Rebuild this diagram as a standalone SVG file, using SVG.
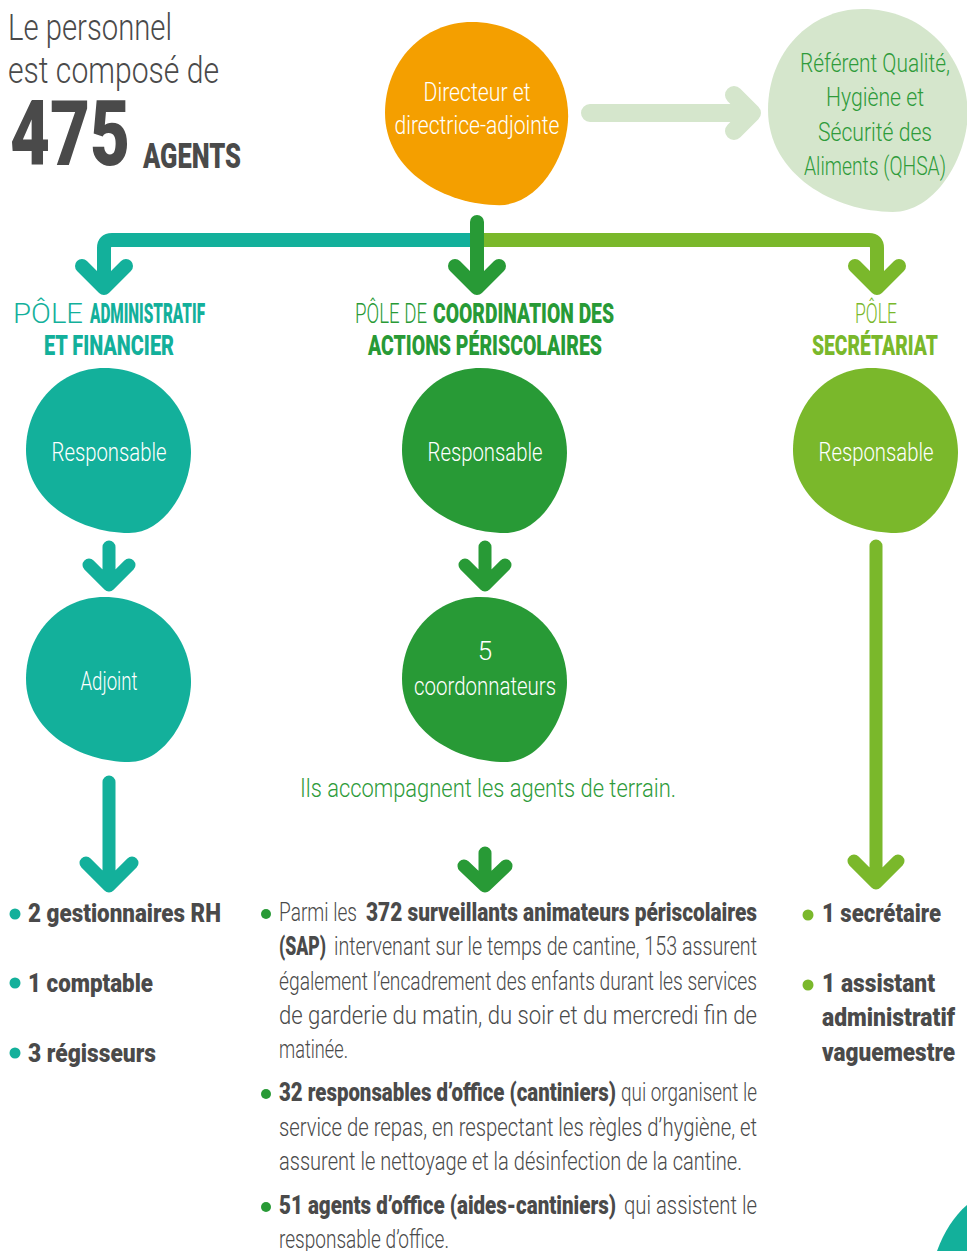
<svg xmlns="http://www.w3.org/2000/svg" xmlns:xlink="http://www.w3.org/1999/xlink" width="967" height="1251" viewBox="0 0 967 1251">
  <style>
    .lt { font-family: Roboto, "Open Sans", "Liberation Sans", sans-serif; font-weight: 300; }
    .bd { font-family: Roboto, "Liberation Sans", sans-serif; font-weight: 900; }
    .gray { fill: #4a4a4a; }
    .white { fill: #ffffff; }
    .teal { fill: #13B09B; }
    .dgreen { fill: #289A36; }
    .lime { fill: #7AB82B; }
    .qtext { fill: #2E9B3A; }
    .arrow { fill: none; stroke-linecap: round; stroke-linejoin: round; }
    .c-teal { stroke: #13B09B; }
    .c-dgreen { stroke: #289A36; }
    .c-lime { stroke: #7AB82B; }
    .c-pale { stroke: #D5E6CC; }
  </style>
  <defs>
    <!-- organic blob in a 165 x 165 box -->
    <path id="blob" d="M78,0 C130,0 165,40 165,85 C165,118 140,165 103,165 C55,165 0,135 0,82 C0,35 35,0 78,0 Z"/>
  </defs>

  <rect width="967" height="1251" fill="#ffffff"/>

  <!-- headline -->
  <g id="headline">
    <text x="8" y="40" class="lt gray" font-size="36" textLength="164" lengthAdjust="spacingAndGlyphs">Le personnel</text>
    <text x="8" y="83" class="lt gray" font-size="36" textLength="211" lengthAdjust="spacingAndGlyphs">est composé de</text>
    <text x="10" y="165" class="bd gray" font-size="90" textLength="120" lengthAdjust="spacingAndGlyphs">475</text>
    <text x="143" y="168" class="bd gray" font-size="35" textLength="98" lengthAdjust="spacingAndGlyphs">AGENTS</text>
  </g>

  <!-- connectors -->
  <g id="connectors">
    <path class="arrow c-pale" stroke-width="18" d="M590,113 H750 M734,95 L752,113 L734,131"/>
    <path class="arrow c-teal" stroke-width="14" d="M477,240 H112 Q104,240 104,248 V284 M82,266 L104,288 L126,266"/>
    <path class="arrow c-lime" stroke-width="14" d="M477,240 H869 Q877,240 877,248 V284 M855,266 L877,288 L899,266"/>
    <path class="arrow c-dgreen" stroke-width="14" d="M477,222 V284 M455,266 L477,288 L499,266"/>
    <path class="arrow c-teal" stroke-width="13" d="M109,547 V582 M89,565 L109,585 L129,565"/>
    <path class="arrow c-dgreen" stroke-width="13" d="M485,547 V582 M465,565 L485,585 L505,565"/>
    <path class="arrow c-teal" stroke-width="13" d="M109,782 V884 M86,863 L109,886 L132,863"/>
    <path class="arrow c-dgreen" stroke-width="13" d="M485,853 V884 M464,866 L485,886 L506,866"/>
    <path class="arrow c-lime" stroke-width="13" d="M876,546 V882 M854,861 L876,883 L898,861"/>
  </g>

  <!-- top nodes -->
  <g id="node-direction">
    <use xlink:href="#blob" href="#blob" transform="translate(385,22) scale(1.11)" fill="#F49F00"/>
    <text x="477" y="101" class="lt white" font-size="26" text-anchor="middle" textLength="107" lengthAdjust="spacingAndGlyphs">Directeur et</text>
    <text x="477" y="134" class="lt white" font-size="26" text-anchor="middle" textLength="165" lengthAdjust="spacingAndGlyphs">directrice-adjointe</text>
  </g>

  <g id="node-qhsa">
    <use xlink:href="#blob" href="#blob" transform="translate(768,9) scale(1.21,1.23)" fill="#D5E6CC"/>
    <text x="875" y="72" class="lt qtext" font-size="26" text-anchor="middle" textLength="150" lengthAdjust="spacingAndGlyphs">Référent Qualité,</text>
    <text x="875" y="106" class="lt qtext" font-size="26" text-anchor="middle" textLength="98" lengthAdjust="spacingAndGlyphs">Hygiène et</text>
    <text x="875" y="141" class="lt qtext" font-size="26" text-anchor="middle" textLength="114" lengthAdjust="spacingAndGlyphs">Sécurité des</text>
    <text x="875" y="175" class="lt qtext" font-size="26" text-anchor="middle" textLength="142" lengthAdjust="spacingAndGlyphs">Aliments (QHSA)</text>
  </g>

  <!-- pole headings -->
  <g id="pole-admin-title">
    <text x="13" y="323" class="lt teal" font-size="27" textLength="70" lengthAdjust="spacingAndGlyphs">PÔLE</text>
    <text x="90" y="323" class="bd teal" font-size="27" textLength="115" lengthAdjust="spacingAndGlyphs">ADMINISTRATIF</text>
    <text x="44" y="355" class="bd teal" font-size="27" textLength="130" lengthAdjust="spacingAndGlyphs">ET FINANCIER</text>
  </g>
  <g id="pole-coord-title">
    <text x="355" y="323" class="lt dgreen" font-size="27" textLength="72" lengthAdjust="spacingAndGlyphs">PÔLE DE</text>
    <text x="433" y="323" class="bd dgreen" font-size="27" textLength="181" lengthAdjust="spacingAndGlyphs">COORDINATION DES</text>
    <text x="368" y="355" class="bd dgreen" font-size="27" textLength="234" lengthAdjust="spacingAndGlyphs">ACTIONS PÉRISCOLAIRES</text>
  </g>
  <g id="pole-secr-title">
    <text x="855" y="323" class="lt lime" font-size="27" textLength="42" lengthAdjust="spacingAndGlyphs">PÔLE</text>
    <text x="812" y="355" class="bd lime" font-size="27" textLength="126" lengthAdjust="spacingAndGlyphs">SECRÉTARIAT</text>
  </g>

  <!-- pole nodes -->
  <g id="node-admin-resp">
    <use xlink:href="#blob" href="#blob" transform="translate(26,368)" class="teal"/>
    <text x="109" y="461" class="lt white" font-size="26" text-anchor="middle" textLength="115" lengthAdjust="spacingAndGlyphs">Responsable</text>
  </g>
  <g id="node-admin-adjoint">
    <use xlink:href="#blob" href="#blob" transform="translate(26,597)" class="teal"/>
    <text x="109" y="690" class="lt white" font-size="26" text-anchor="middle" textLength="57" lengthAdjust="spacingAndGlyphs">Adjoint</text>
  </g>
  <g id="node-coord-resp">
    <use xlink:href="#blob" href="#blob" transform="translate(402,368)" class="dgreen"/>
    <text x="485" y="461" class="lt white" font-size="26" text-anchor="middle" textLength="115" lengthAdjust="spacingAndGlyphs">Responsable</text>
  </g>
  <g id="node-coord-coordonnateurs">
    <use xlink:href="#blob" href="#blob" transform="translate(402,597)" class="dgreen"/>
    <text x="485" y="660" class="lt white" font-size="26" text-anchor="middle">5</text>
    <text x="485" y="695" class="lt white" font-size="26" text-anchor="middle" textLength="142" lengthAdjust="spacingAndGlyphs">coordonnateurs</text>
  </g>
  <g id="node-secr-resp">
    <use xlink:href="#blob" href="#blob" transform="translate(793,368)" class="lime"/>
    <text x="876" y="461" class="lt white" font-size="26" text-anchor="middle" textLength="115" lengthAdjust="spacingAndGlyphs">Responsable</text>
  </g>

  <text x="300" y="797" class="lt qtext" font-size="26" textLength="376" lengthAdjust="spacingAndGlyphs">Ils accompagnent les agents de terrain.</text>

  <!-- administrative staff list -->
  <g id="list-admin">
    <circle cx="15" cy="914" r="5.5" class="teal"/>
    <circle cx="15" cy="983" r="5.5" class="teal"/>
    <circle cx="15" cy="1053" r="5.5" class="teal"/>
    <text x="28" y="922" class="bd gray" font-size="25" textLength="193" lengthAdjust="spacingAndGlyphs">2 gestionnaires RH</text>
    <text x="28" y="992" class="bd gray" font-size="25" textLength="125" lengthAdjust="spacingAndGlyphs">1 comptable</text>
    <text x="28" y="1062" class="bd gray" font-size="25" textLength="128" lengthAdjust="spacingAndGlyphs">3 régisseurs</text>
  </g>

  <!-- periscolaire staff list -->
  <g id="list-coord">
    <circle cx="266" cy="914" r="5" class="dgreen"/>
    <circle cx="266" cy="1094" r="5" class="dgreen"/>
    <circle cx="266" cy="1207" r="5" class="dgreen"/>
    <text x="279" y="921" class="lt gray" font-size="25" textLength="78" lengthAdjust="spacingAndGlyphs">Parmi les</text>
    <text x="366" y="921" class="bd gray" font-size="25" textLength="391" lengthAdjust="spacingAndGlyphs">372 surveillants animateurs périscolaires</text>
    <text x="279" y="955" class="bd gray" font-size="25" textLength="47" lengthAdjust="spacingAndGlyphs">(SAP)</text>
    <text x="334" y="955" class="lt gray" font-size="25" textLength="423" lengthAdjust="spacingAndGlyphs">intervenant sur le temps de cantine, 153 assurent</text>
    <text x="279" y="990" class="lt gray" font-size="25" textLength="478" lengthAdjust="spacingAndGlyphs">également l’encadrement des enfants durant les services</text>
    <text x="279" y="1024" class="lt gray" font-size="25" textLength="478" lengthAdjust="spacingAndGlyphs">de garderie du matin, du soir et du mercredi fin de</text>
    <text x="279" y="1058" class="lt gray" font-size="25" textLength="69" lengthAdjust="spacingAndGlyphs">matinée.</text>

    <text x="279" y="1101" class="bd gray" font-size="25" textLength="337" lengthAdjust="spacingAndGlyphs">32 responsables d’office (cantiniers)</text>
    <text x="621" y="1101" class="lt gray" font-size="25" textLength="136" lengthAdjust="spacingAndGlyphs">qui organisent le</text>
    <text x="279" y="1136" class="lt gray" font-size="25" textLength="478" lengthAdjust="spacingAndGlyphs">service de repas, en respectant les règles d’hygiène, et</text>
    <text x="279" y="1170" class="lt gray" font-size="25" textLength="463" lengthAdjust="spacingAndGlyphs">assurent le nettoyage et la désinfection de la cantine.</text>

    <text x="279" y="1214" class="bd gray" font-size="25" textLength="337" lengthAdjust="spacingAndGlyphs">51 agents d’office (aides-cantiniers)</text>
    <text x="624" y="1214" class="lt gray" font-size="25" textLength="133" lengthAdjust="spacingAndGlyphs">qui assistent le</text>
    <text x="279" y="1248" class="lt gray" font-size="25" textLength="170" lengthAdjust="spacingAndGlyphs">responsable d’office.</text>
  </g>

  <!-- secretariat staff list -->
  <g id="list-secr">
    <circle cx="808" cy="915" r="5.5" class="lime"/>
    <circle cx="808" cy="985" r="5.5" class="lime"/>
    <text x="822" y="922" class="bd gray" font-size="25" textLength="119" lengthAdjust="spacingAndGlyphs">1 secrétaire</text>
    <text x="822" y="992" class="bd gray" font-size="25" textLength="113" lengthAdjust="spacingAndGlyphs">1 assistant</text>
    <text x="822" y="1026" class="bd gray" font-size="25" textLength="133" lengthAdjust="spacingAndGlyphs">administratif</text>
    <text x="822" y="1061" class="bd gray" font-size="25" textLength="133" lengthAdjust="spacingAndGlyphs">vaguemestre</text>
  </g>

  <!-- corner shape -->
  <path d="M937,1251 C944,1232 954,1216 967,1205 L967,1251 Z" class="teal"/>
</svg>
